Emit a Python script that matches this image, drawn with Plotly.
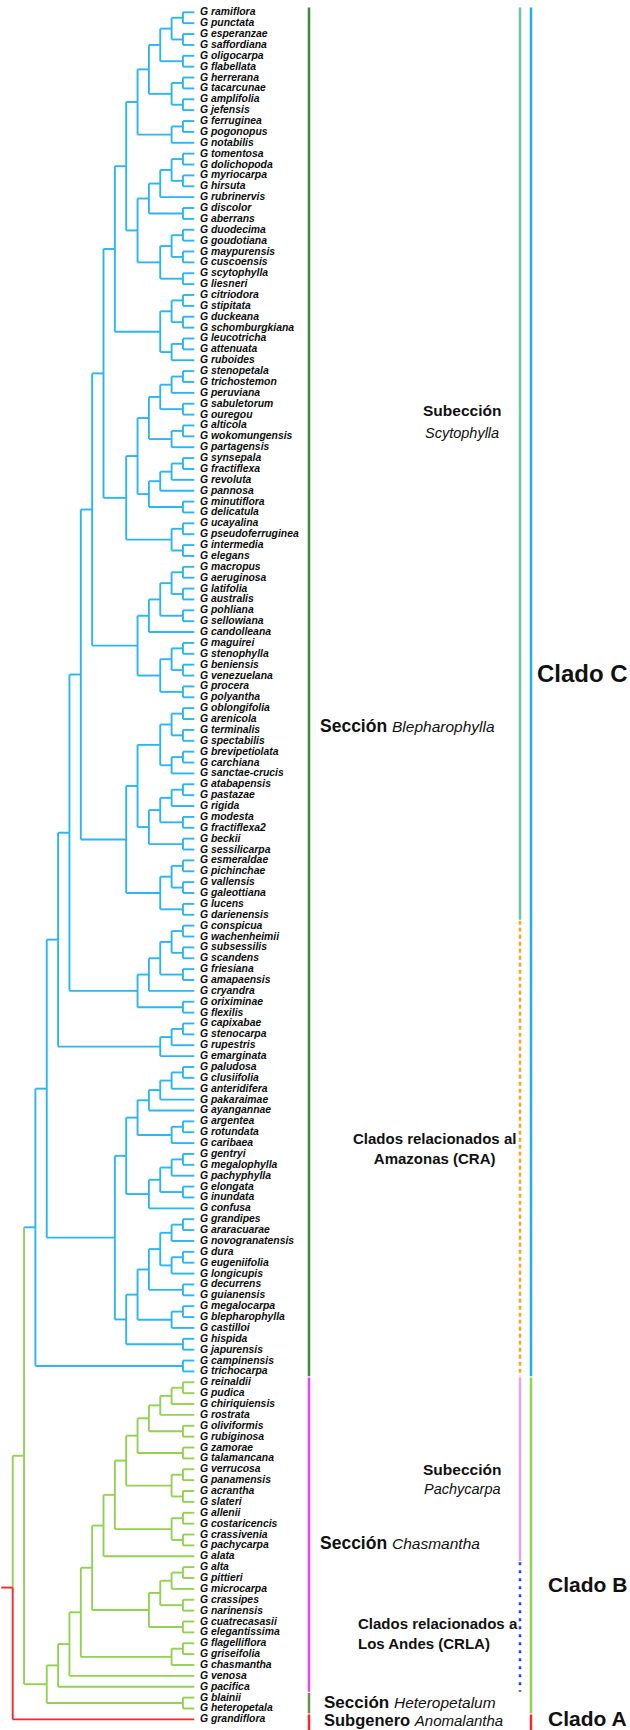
import plotly.graph_objects as go

# ---------------------------------------------------------------------------
# Tree topology (Newick), built from named sub-clades
# ---------------------------------------------------------------------------
C_RAM = ("(((((ramiflora,punctata),(esperanzae,saffordiana)),(oligocarpa,flabellata)),"
         "((herrerana,tacarcunae),(amplifolia,jefensis))),((ferruginea,pogonopus),notabilis))")
C_TOM = ("(((((tomentosa,dolichopoda),(myriocarpa,hirsuta)),rubrinervis),(discolor,aberrans)),"
         "(((duodecima,goudotiana),(maypurensis,cuscoensis)),(scytophylla,liesneri)))")
C_CIT = "(((citriodora,stipitata),(duckeana,schomburgkiana)),((leucotricha,attenuata),ruboides))"
C_STE = ("((((((stenopetala,trichostemon),peruviana),(sabuletorum,ouregou)),"
         "((alticola,wokomungensis),partagensis)),"
         "((((synsepala,fractiflexa),revoluta),pannosa),(minutiflora,delicatula))),"
         "((ucayalina,pseudoferruginea),(intermedia,elegans)))")
C_MAC = ("(((((macropus,aeruginosa),(latifolia,australis)),(pohliana,sellowiana)),candolleana),"
         "(((maguirei,stenophylla),(beniensis,venezuelana)),(procera,polyantha)))")
C_OBL_1 = "(((oblongifolia,arenicola),(terminalis,spectabilis)),((brevipetiolata,carchiana),sanctae-crucis))"
C_OBL_2 = "((((atabapensis,pastazae),rigida),(modesta,fractiflexa2)),(beckii,sessilicarpa))"
C_OBL_3 = "(((esmeraldae,pichinchae),(vallensis,galeottiana)),(lucens,darienensis))"
C_OBL = f"(({C_OBL_1},{C_OBL_2}),{C_OBL_3})"
C_CON = "(((((conspicua,wachenheimii),(subsessilis,scandens)),(friesiana,amapaensis)),cryandra),(oriximinae,flexilis))"
C_CAP = "(((capixabae,stenocarpa),rupestris),emarginata)"
C_PAL_1 = "(((((paludosa,clusiifolia),anteridifera),pakaraimae),ayangannae),((argentea,rotundata),caribaea))"
C_PAL_2 = "((((gentryi,megalophylla),pachyphylla),(elongata,inundata)),confusa)"
C_PAL_3 = "((((grandipes,araracuarae),novogranatensis),((dura,eugeniifolia),longicupis)),(decurrens,guianensis))"
C_PAL_4 = "((megalocarpa,blepharophylla),castilloi)"
C_PAL = f"(({C_PAL_1},{C_PAL_2}),(({C_PAL_3},{C_PAL_4}),(hispida,japurensis)))"
C_CAM = "(campinensis,trichocarpa)"
CLADO_C = (f"((((((((({C_RAM},{C_TOM}),{C_CIT}),{C_STE}),{C_MAC}),{C_OBL}),"
           f"{C_CON}),{C_CAP}),{C_PAL}),{C_CAM})")

B_REI = ("((((((reinaldii,pudica),chiriquiensis),rostrata),(oliviformis,rubiginosa)),(zamorae,talamancana)),"
         "((verrucosa,panamensis),(acrantha,slateri)))")
B_ALL = "((allenii,costaricencis),(crassivenia,pachycarpa))"
B_ALT = "((((alta,pittieri),microcarpa),(crassipes,narinensis)),(cuatrecasasii,elegantissima))"
B_FLA = "((flagelliflora,griseifolia),chasmantha)"
CLADO_B = f"((((((({B_REI},{B_ALL}),alata),{B_ALT}),{B_FLA}),venosa),pacifica),(blainii,heteropetala))"

CLADO_A = "grandiflora"

# Leaf ranges covered by the bracket bars on the right
SECCIONES = [("ramiflora", "trichocarpa"), ("reinaldii", "pacifica"),
             ("blainii", "heteropetala"), ("grandiflora", "grandiflora")]
SUBGRUPOS = [("ramiflora", "darienensis"), ("conspicua", "trichocarpa"),
             ("reinaldii", "alata"), ("alta", "pacifica")]
CLADOS = [("ramiflora", "trichocarpa"), ("reinaldii", "heteropetala"),
          ("grandiflora", "grandiflora")]

# ---------------------------------------------------------------------------
# Styling
# ---------------------------------------------------------------------------
W, H = 630, 1730
BLUE = "#2bb5f2"
GREEN = "#93d152"
RED = "#f2292b"
FONT = "Liberation Sans, Arial, sans-serif"
LW = 1.9

LEVEL_PX = 11.35   # horizontal step per node level
TIP_PX = 194.3     # x of leaf tips
ROW_PX = 10.873    # vertical spacing of leaves
FIRST_PX = 12.3    # y of first leaf


def parse(s):
    pos = 0

    def node():
        nonlocal pos
        if s[pos] == "(":
            pos += 1
            kids = [node()]
            while s[pos] == ",":
                pos += 1
                kids.append(node())
            assert s[pos] == ")"
            pos += 1
            return kids
        start = pos
        while pos < len(s) and s[pos] not in "(),":
            pos += 1
        return s[start:pos]

    return node()


tree_c = parse(CLADO_C)
tree_b = parse(CLADO_B)
tree_a = CLADO_A

leaves = []


def collect(t):
    if isinstance(t, str):
        leaves.append(t)
    else:
        for k in t:
            collect(k)


for t in (tree_c, tree_b, tree_a):
    collect(t)
idx = {n: i for i, n in enumerate(leaves)}

segs = {}


def seg(color, xs, ys):
    d = segs.setdefault(color, ([], []))
    d[0].extend(xs + [None])
    d[1].extend(ys + [None])


def draw(t, color):
    """Draw a subtree; returns (level, y) of its root."""
    if isinstance(t, str):
        return 0, idx[t]
    info = [draw(k, color) for k in t]
    lvl = max(l for l, _ in info) + 1
    y0, y1 = info[0][1], info[-1][1]
    seg(color, [-lvl, -lvl], [y0, y1])
    for l, yc in info:
        seg(color, [-lvl, -l], [yc, yc])
    return lvl, (y0 + y1) / 2


lc, yc = draw(tree_c, BLUE)
lb, yb = draw(tree_b, GREEN)
la, ya = 0, idx[tree_a]

# node joining Clado C and Clado B
lcb = max(lc, lb) + 1
ycb = (yc + yb) / 2
seg(GREEN, [-lcb, -lcb], [yc, yb])
seg(BLUE, [-lcb, -lc], [yc, yc])
seg(GREEN, [-lcb, -lb], [yb, yb])

# root
lr = max(lcb, la) + 1
yr = (ycb + ya) / 2
seg(GREEN, [-lr, -lr], [ycb, yr])
seg(RED, [-lr, -lr], [yr, ya])
seg(GREEN, [-lr, -lcb], [ycb, ycb])
seg(RED, [-lr, -la], [ya, ya])
seg(RED, [-lr - 1, -lr], [yr, yr])

fig = go.Figure()
for color, (xs, ys) in segs.items():
    fig.add_trace(go.Scatter(x=xs, y=ys, mode="lines",
                             line=dict(color=color, width=LW),
                             hoverinfo="skip"))

annotations = []
for n in leaves:
    annotations.append(dict(
        x=0, y=idx[n], xref="x", yref="y", text="G " + n,
        showarrow=False, xanchor="left", yanchor="middle", xshift=4, yshift=0.5,
        font=dict(family=FONT, size=10.4, color="#0c0c0c", weight="bold", style="italic"),
    ))


def px(x, y):
    return x / W, 1 - y / H


def label(text, x, y, size, anchor="left", bold=True, italic=False, align="left"):
    xp, yp = px(x, y)
    annotations.append(dict(
        x=xp, y=yp, xref="paper", yref="paper", text=text, showarrow=False,
        xanchor=anchor, yanchor="middle", align=align,
        font=dict(family=FONT, size=size, color="#111111",
                  weight="bold" if bold else "normal",
                  style="italic" if italic else "normal"),
    ))


def mixed(a, b, size_b):
    return (f"<b>{a}</b> <span style='font-size:{size_b}px;font-weight:normal'>"
            f"<i>{b}</i></span>")


label("Subección", 462, 411, 15.5, anchor="center")
label("Scytophylla", 462, 433, 14.5, anchor="center", bold=False, italic=True)
label(mixed("Sección", "Blepharophylla", 15.5), 318, 726, 17.5)
label("Clado C", 535, 673, 24)
label("Clados relacionados al<br>Amazonas (CRA)", 434, 1148, 15, anchor="center", align="center")
label("Subección", 503, 1469, 15.5, anchor="right")
label("Pachycarpa", 503, 1489, 14.5, anchor="right", bold=False, italic=True)
label(mixed("Sección", "Chasmantha", 15.5), 318, 1543, 17.5)
label("Clados relacionados a<br>Los Andes (CRLA)", 356, 1633, 15)
label("Clado B", 546, 1584, 21)
label(mixed("Sección", "Heteropetalum", 15.5), 322, 1702, 17)
label(mixed("Subgenero", "Anomalantha", 15), 322, 1720, 16.5)
label("Clado A", 546, 1718, 21)

shapes = []


def bar(first, last, x, color, width=2.5, dash="solid", pad=0.45):
    # the bar of the last leaf runs on to the lower edge
    end = idx[last] + (1.2 if idx[last] == len(leaves) - 1 else pad)
    shapes.append(dict(
        type="line", xref="paper", yref="y",
        x0=x / W, x1=x / W, y0=idx[first] - pad, y1=end,
        line=dict(color=color, width=width, dash=dash),
    ))


sec_colors = ["#3b8a3e", "#e845ef", "#6b8f5a", RED]
for (a, b), c in zip(SECCIONES, sec_colors):
    bar(a, b, 309, c)

sub_styles = [("#69c79b", "solid"), ("#f5a623", "4px,3px"),
              ("#e9a3ea", "solid"), ("#2443e0", "3px,5px")]
for (a, b), (c, d) in zip(SUBGRUPOS, sub_styles):
    bar(a, b, 520, c, dash=d)

clado_colors = ["#1fb0ef", GREEN, RED]
for (a, b), c in zip(CLADOS, clado_colors):
    bar(a, b, 531, c)

fig.update_layout(
    width=W, height=H, margin=dict(l=0, r=0, t=0, b=0),
    paper_bgcolor="white", plot_bgcolor="white", showlegend=False,
    xaxis=dict(visible=False, range=[-TIP_PX / LEVEL_PX, (W - TIP_PX) / LEVEL_PX], fixedrange=True),
    yaxis=dict(visible=False, range=[(H - FIRST_PX) / ROW_PX, -FIRST_PX / ROW_PX], fixedrange=True),
    annotations=annotations, shapes=shapes,
)

fig.write_html("out.html")
